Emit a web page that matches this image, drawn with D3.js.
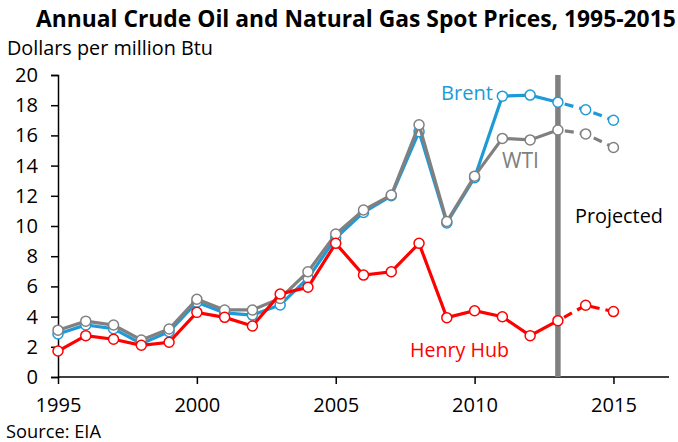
<!DOCTYPE html>
<html>
<head>
<meta charset="utf-8">
<script src="https://cdn.jsdelivr.net/npm/d3@7"></script>
<style>
  body { margin: 0; background: #fff; }
  svg { display: block; font-family: "Open Sans", sans-serif; }
</style>
</head>
<body>
<div id="chart"></div>
<script>
// values, dollars per million Btu
var years = d3.range(1995, 2016);
var brent = [2.85, 3.45, 3.2, 2.2, 3.0, 4.95, 4.25, 4.1, 4.77, 6.55, 9.2, 10.9, 12.0, 16.25, 10.2, 13.2, 18.6, 18.67, 18.2, 17.7, 17.0];
var wti = [3.1, 3.7, 3.44, 2.45, 3.18, 5.15, 4.44, 4.44, 5.2, 6.97, 9.47, 11.06, 12.05, 16.7, 10.3, 13.3, 15.8, 15.7, 16.36, 16.1, 15.2];
var henryHub = [1.72, 2.74, 2.5, 2.1, 2.3, 4.28, 3.95, 3.38, 5.5, 5.94, 8.85, 6.75, 6.97, 8.85, 3.93, 4.39, 3.99, 2.74, 3.73, 4.75, 4.33];
var projStart = 2013;
var yTicks = d3.range(0, 21, 2);
var xTicks = [1995, 2000, 2005, 2010, 2015];

var W = 678, H = 442;
var svg = d3.select("#chart").append("svg").attr("width", W).attr("height", H);

var x = d3.scaleLinear().domain([1995, 2017]).range([58, 669]);
var y = d3.scaleLinear().domain([0, 20]).range([377, 75]);

// size a text so it takes the width it has in the original
function fit(sel, w) {
    var len = sel.node().getComputedTextLength();
    var fs = parseFloat(sel.style("font-size"));
    sel.style("font-size", (fs * w / len).toFixed(2) + "px");
    return sel;
}

fit(svg.append("text").attr("x", 36).attr("y", 27)
    .style("font-weight", "bold").style("font-size", "20px")
    .text("Annual Crude Oil and Natural Gas Spot Prices, 1995-2015"), 640);
fit(svg.append("text").attr("x", 7).attr("y", 55).style("font-size", "18px")
    .text("Dollars per million Btu"), 206);
fit(svg.append("text").attr("x", 6).attr("y", 438).style("font-size", "18px")
    .text("Source: EIA"), 95);

// axes
var yAxis = d3.axisLeft(y).tickValues(yTicks).tickSize(7).tickPadding(13);
var gy = svg.append("g").attr("transform", "translate(58,0)").call(yAxis);
var xAxis = d3.axisBottom(x).tickValues(xTicks).tickFormat(d3.format("d")).tickSize(7).tickPadding(14);
var gx = svg.append("g").attr("transform", "translate(0,377)").call(xAxis);
[gx, gy].forEach(function(g){
    g.select(".domain").attr("stroke", "#000").attr("stroke-width", 1.5);
    g.selectAll(".tick line").attr("stroke", "#000").attr("stroke-width", 1.5);
    g.selectAll("text").attr("fill", "#000").style("font-family", "Open Sans, sans-serif").style("font-size", "19px");
});
// "2000" is about 46px wide in the original
var probe = gx.selectAll(".tick text").filter(function(d){ return d === 2000; });
var tickFs = parseFloat(probe.style("font-size")) * 46 / probe.node().getComputedTextLength();
gx.selectAll("text").style("font-size", tickFs + "px");
gy.selectAll("text").style("font-size", tickFs + "px");
gx.select(".domain").attr("d", "M58,0H669");

// projection marker
svg.append("line").attr("x1", x(projStart)).attr("x2", x(projStart))
    .attr("y1", y(20)).attr("y2", y(0))
    .attr("stroke", "#808080").attr("stroke-width", 5.5);
fit(svg.append("text").attr("x", 575).attr("y", 223).style("font-size", "18px").text("Projected"), 88);

var series = [
    {name: "Brent", vals: brent, color: "#1E9BD7"},
    {name: "WTI", vals: wti, color: "#808080"},
    {name: "Henry Hub", vals: henryHub, color: "#FF0000"}
];

var line = d3.line().x(function(d){ return x(d.year); }).y(function(d){ return y(d.v); });

series.forEach(function(s){
    var pts = years.map(function(yr, i){ return {year: yr, v: s.vals[i]}; });
    var hist = pts.filter(function(d){ return d.year <= projStart; });
    var proj = pts.filter(function(d){ return d.year >= projStart; });
    svg.append("path").datum(hist).attr("d", line)
        .attr("fill", "none").attr("stroke", s.color).attr("stroke-width", 3.2);
    svg.append("path").datum(proj).attr("d", line)
        .attr("fill", "none").attr("stroke", s.color).attr("stroke-width", 3.2)
        .attr("stroke-dasharray", "9,6").attr("stroke-dashoffset", -7);
    svg.selectAll(null).data(pts).enter().append("circle")
        .attr("cx", function(d){ return x(d.year); })
        .attr("cy", function(d){ return y(d.v); })
        .attr("r", 5)
        .attr("fill", "#fff").attr("stroke", s.color).attr("stroke-width", 1.5);
});

// series labels
fit(svg.append("text").attr("x", 441).attr("y", 100).attr("fill", "#1E9BD7").style("font-size", "18px").text("Brent"), 52);
fit(svg.append("text").attr("x", 502).attr("y", 168).attr("fill", "#808080").style("font-size", "18px").text("WTI"), 37);
fit(svg.append("text").attr("x", 410).attr("y", 357).attr("fill", "#FF0000").style("font-size", "18px").text("Henry Hub"), 99);
</script>
</body>
</html>
